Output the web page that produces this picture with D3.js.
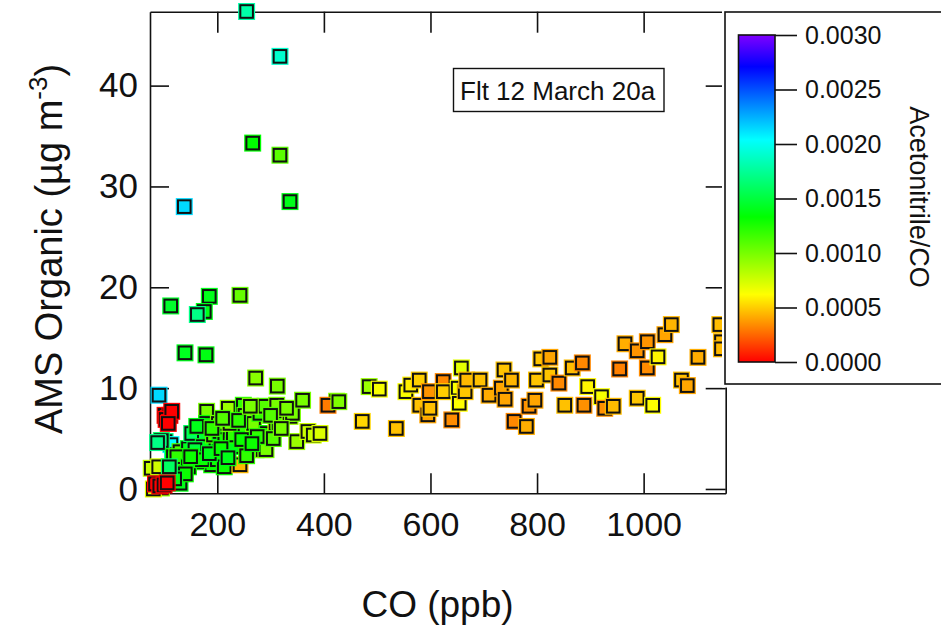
<!DOCTYPE html>
<html>
<head>
<meta charset="utf-8">
<script src="https://cdn.jsdelivr.net/npm/d3@7"></script>
<style>
  body { margin: 0; background: #fff; }
  svg { display: block; }
  text { font-family: "Liberation Sans", Arial, sans-serif; fill: #111; }
</style>
</head>
<body>
<svg id="chart" width="941" height="625"></svg>
<script>
// CO (ppb), AMS organic mass (µg m-3) and acetonitrile/CO ratio per sample
const coPpb = [
  255, 317.6, 266.4, 317.6, 336.4, 138, 112.6, 185, 175.6, 162.5, 242.6, 139.4, 178.8, 272, 312.6, 90.6,
  102, 111, 104, 114.5, 108,
  102, 113, 116, 76, 90, 95, 88, 130, 117.6, 130, 142.6, 145.8, 161.5, 167.5, 152,
  180, 180, 161.5, 199, 195.7, 235, 235, 189.5, 161.5, 124, 173.8, 158, 145.8, 172, 200, 213,
  192.8, 205, 202, 214, 224, 230, 230, 220.6, 223.8, 248.8, 252, 258, 252, 245.8, 242.6,
  268, 272.5, 280, 289.5, 286, 291.3, 294, 311.4, 310, 316, 336.4, 341, 349, 360, 370, 380, 392.7,
  424, 407.7, 190, 210, 240, 262, 275, 300, 305, 320, 330, 150, 185, 207, 220, 255, 265, 140, 120, 110, 95,
  80, 84, 92, 100, 106,
  428, 485, 504, 472, 536, 554, 563, 579, 580, 595, 599, 598, 624, 624, 640, 652, 658, 654, 665, 668,
  693, 710, 738, 733, 752, 740, 757, 780, 785, 796, 799, 807, 824, 824, 841, 852, 866, 885, 895, 888,
  921, 927, 943, 955, 965, 988, 988, 1007, 1007, 1017, 1027, 1040, 1052, 1071, 1082, 1102, 1143, 1146, 1146
];
const amsOrganic = [
  47.35, 42.9, 34.3, 33.1, 28.5, 28.0, 18.15, 19.1, 17.6, 17.3, 19.2, 13.5, 13.3, 11.0, 10.2, 9.3,
  7.3, 7.3, 6.9, 7.7, 6.5,
  4.7, 4.4, 3.4, 2.05, 2.2, 4.8, 4.6, 0.57, 3.2, 3.7, 2.9, 4.0, 4.4, 5.35, 5.5,
  7.7, 6.5, 6.2, 5.5, 3.7, 5.0, 7.8, 2.4, 2.7, 3.2, 4.2, 3.9, 2.2, 2.9, 2.9, 2.2,
  5.35, 5.7, 6.5, 4.9, 4.9, 4.2, 5.35, 8.0, 6.5, 8.3, 7.3, 6.45, 6.2, 4.9, 2.4,
  6.5, 3.9, 7.5, 8.2, 3.9, 3.9, 5.5, 8.3, 6.45, 6.5, 7.2, 7.5, 4.7, 8.8, 5.7, 5.35, 5.5,
  8.7, 8.3, 6.0, 7.0, 6.8, 8.2, 5.2, 7.3, 5.0, 6.0, 8.0, 3.2, 3.5, 4.0, 3.1, 3.3, 4.5, 1.5, 1.0, 2.2, 0.1,
  0.0, 0.5, 0.3, 0.4, 0.6,
  8.66, 10.15, 9.9, 6.7, 6.0, 9.65, 10.3, 10.8, 8.3, 7.35, 8.0, 9.65, 10.65, 9.65, 6.85, 10.0, 12.0, 8.5, 9.65, 10.8,
  10.8, 9.3, 11.8, 10.0, 10.8, 8.9, 6.7, 6.2, 8.2, 8.8, 10.8, 12.9, 13.05, 11.3, 10.5, 8.3, 12.0, 12.5, 10.15, 8.3,
  9.15, 8.0, 8.2, 11.9, 14.4, 13.7, 9.0, 14.6, 12.0, 8.3, 13.1, 15.3, 16.3, 10.8, 10.25, 13.05, 16.3, 14.6, 13.9
];
const acetoCO = [
  0.0018, 0.0019, 0.00133, 0.00108, 0.0014, 0.00214, 0.00145, 0.0014, 0.0014, 0.0017, 0.00105, 0.00142, 0.00138, 0.00095, 0.001, 0.00214,
  0.00002, 0.0, 0.0, 0.0, 0.0,
  0.00168, 0.00204, 0.0019, 0.00078, 0.00075, 0.0016, 0.0017, 0.0014, 0.00135, 0.0011, 0.0013, 0.0014, 0.0014, 0.0015, 0.0016,
  0.001, 0.0013, 0.0014, 0.0011, 0.0014, 0.0014, 0.0011, 0.0013, 0.0013, 0.0012, 0.0014, 0.0015, 0.0013, 0.0013, 0.0013, 0.0013,
  0.0011, 0.0014, 0.001, 0.0013, 0.0012, 0.0014, 0.0012, 0.0009, 0.001, 0.0012, 0.0011, 0.0014, 0.0012, 0.0013, 0.00045,
  0.001, 0.0013, 0.0012, 0.0011, 0.0009, 0.001, 0.0013, 0.001, 0.0007, 0.0011, 0.0009, 0.001, 0.0009, 0.001, 0.00075, 0.00078, 0.00072,
  0.00095, 0.0003, 0.0012, 0.0011, 0.0012, 0.001, 0.0012, 0.0011, 0.0011, 0.001, 0.001, 0.0013, 0.0014, 0.0013, 0.0014, 0.0012, 0.0013, 0.0013, 0.0014, 0.0016, 0.0009,
  0.0007, 0.0, 0.0, 0.0, 0.0,
  0.00098, 0.0009, 0.00064, 0.00052, 0.00047, 0.00064, 0.00058, 0.0005, 0.00047, 0.0004, 0.00047, 0.00036, 0.00033, 0.0005, 0.00034, 0.00064, 0.0007, 0.00062, 0.00048, 0.00045,
  0.00047, 0.00042, 0.00048, 0.0004, 0.00044, 0.0004, 0.00033, 0.00042, 0.00035, 0.0004, 0.00048, 0.00048, 0.0004, 0.00048, 0.00033, 0.00047, 0.00046, 0.00033, 0.0006, 0.00035,
  0.00064, 0.00035, 0.00046, 0.00031, 0.00042, 0.00036, 0.00048, 0.00036, 0.00034, 0.00062, 0.0006, 0.0004, 0.00044, 0.00047, 0.0004, 0.00042, 0.00046, 0.00045, 0.00045
];

const xTicks = [200, 400, 600, 800, 1000];
const yTicks = [0, 10, 20, 30, 40];
const cbTicks = [0, 0.0005, 0.001, 0.0015, 0.002, 0.0025, 0.003];
const cbStops = [0, 0.00062, 0.00133, 0.00204, 0.00271, 0.003];
const cbColors = ["#ff0000", "#ffff00", "#00ff00", "#00ffff", "#0000ff", "#8000ff"];

const svg = d3.select("#chart");

const x = d3.scaleLinear().domain([73.7, 1154]).range([150, 725.7]);
const y = d3.scaleLinear().domain([-0.43, 47.33]).range([493.3, 11.7]);
const color = d3.scaleLinear().domain(cbStops).range(cbColors).clamp(true);

function styleAxis(g) {
  g.selectAll("path.domain").attr("stroke", "#111").attr("stroke-width", 1.6);
  g.selectAll(".tick line").attr("stroke", "#111").attr("stroke-width", 1.6);
  g.selectAll(".tick text").style("font-family", '"Liberation Sans", Arial, sans-serif').attr("fill", "#111");
}

// frame: bottom/left labelled axes, top/right mirrored ticks
svg.append("g").attr("transform", "translate(0,493.3)")
  .call(d3.axisBottom(x).tickValues(xTicks).tickSizeInner(-20).tickSizeOuter(0).tickPadding(19).tickFormat(d3.format("d")))
  .call(styleAxis)
  .call(g => g.selectAll(".tick text").attr("font-size", 34));

svg.append("g").attr("transform", "translate(150,0)")
  .call(d3.axisLeft(y).tickValues(yTicks).tickSizeInner(-19).tickSizeOuter(0).tickPadding(12).tickFormat(d3.format("d")))
  .call(styleAxis)
  .call(g => g.selectAll(".tick text").attr("font-size", 35));

svg.append("g").attr("transform", "translate(0,11.7)")
  .call(d3.axisTop(x).tickValues(xTicks).tickSizeInner(-21).tickSizeOuter(0).tickFormat(""))
  .call(styleAxis);

svg.append("g").attr("transform", "translate(725.7,0)")
  .call(d3.axisRight(y).tickValues(yTicks).tickSizeInner(-20).tickSizeOuter(0).tickFormat(""))
  .call(styleAxis);

// axis titles
svg.append("text")
  .attr("x", 437.5).attr("y", 617)
  .attr("text-anchor", "middle").attr("font-size", 37)
  .text("CO (ppb)");

const yTitle = svg.append("text")
  .attr("transform", "translate(62,249) rotate(-90)")
  .attr("text-anchor", "middle").attr("font-size", 38);
yTitle.append("tspan").text("AMS Organic (µg m");
yTitle.append("tspan").attr("font-size", 26).attr("dy", -15).text("-3");
yTitle.append("tspan").attr("dy", 15).text(")");

// scatter markers, coloured by acetonitrile/CO
const pts = coPpb.map((c, i) => ({ c, o: amsOrganic[i], r: acetoCO[i] }));
const mk = svg.append("g").selectAll("g").data(pts).join("g")
  .attr("transform", d => `translate(${x(d.c)},${y(d.o)})`);
mk.append("rect")
  .attr("x", -8.5).attr("y", -8.5).attr("width", 17).attr("height", 17)
  .attr("fill", d => color(d.r));
mk.append("rect")
  .attr("x", -6.3).attr("y", -6.3).attr("width", 12.6).attr("height", 12.6)
  .attr("fill", d => color(d.r)).attr("stroke", "#111").attr("stroke-width", 2);

// flight annotation
svg.append("rect")
  .attr("x", 453.5).attr("y", 68.5).attr("width", 210.5).attr("height", 43)
  .attr("fill", "#fff").attr("stroke", "#111").attr("stroke-width", 1.4);
svg.append("text")
  .attr("x", 460).attr("y", 99.5).attr("font-size", 26)
  .text("Flt 12 March 20a");

// colour scale legend
svg.append("rect").attr("x", 722).attr("y", 8.5).attr("width", 230).attr("height", 379).attr("fill", "#fff");
svg.append("rect")
  .attr("x", 725).attr("y", 12).attr("width", 240).attr("height", 372)
  .attr("fill", "#fff").attr("stroke", "#111").attr("stroke-width", 1.6);

const cb = d3.scaleLinear().domain([0, 0.003]).range([362, 35]);
const grad = svg.append("defs").append("linearGradient")
  .attr("id", "cbGrad").attr("x1", 0).attr("y1", 1).attr("x2", 0).attr("y2", 0);
grad.selectAll("stop").data(cbStops).join("stop")
  .attr("offset", d => d / 0.003)
  .attr("stop-color", (d, i) => cbColors[i]);

svg.append("rect")
  .attr("x", 738.5).attr("y", cb(0.003)).attr("width", 36.5).attr("height", cb(0) - cb(0.003))
  .attr("fill", "url(#cbGrad)").attr("stroke", "#111").attr("stroke-width", 1.6);

svg.append("g").attr("transform", "translate(775,0)")
  .call(d3.axisRight(cb).tickValues(cbTicks).tickSizeInner(22).tickSizeOuter(0).tickPadding(8).tickFormat(d3.format(".4f")))
  .call(styleAxis)
  .call(g => g.select("path.domain").remove())
  .call(g => g.selectAll(".tick text").attr("font-size", 25));

svg.append("text")
  .attr("transform", "translate(910,197) rotate(90)")
  .attr("text-anchor", "middle").attr("font-size", 27)
  .text("Acetonitrile/CO");
</script>
</body>
</html>
